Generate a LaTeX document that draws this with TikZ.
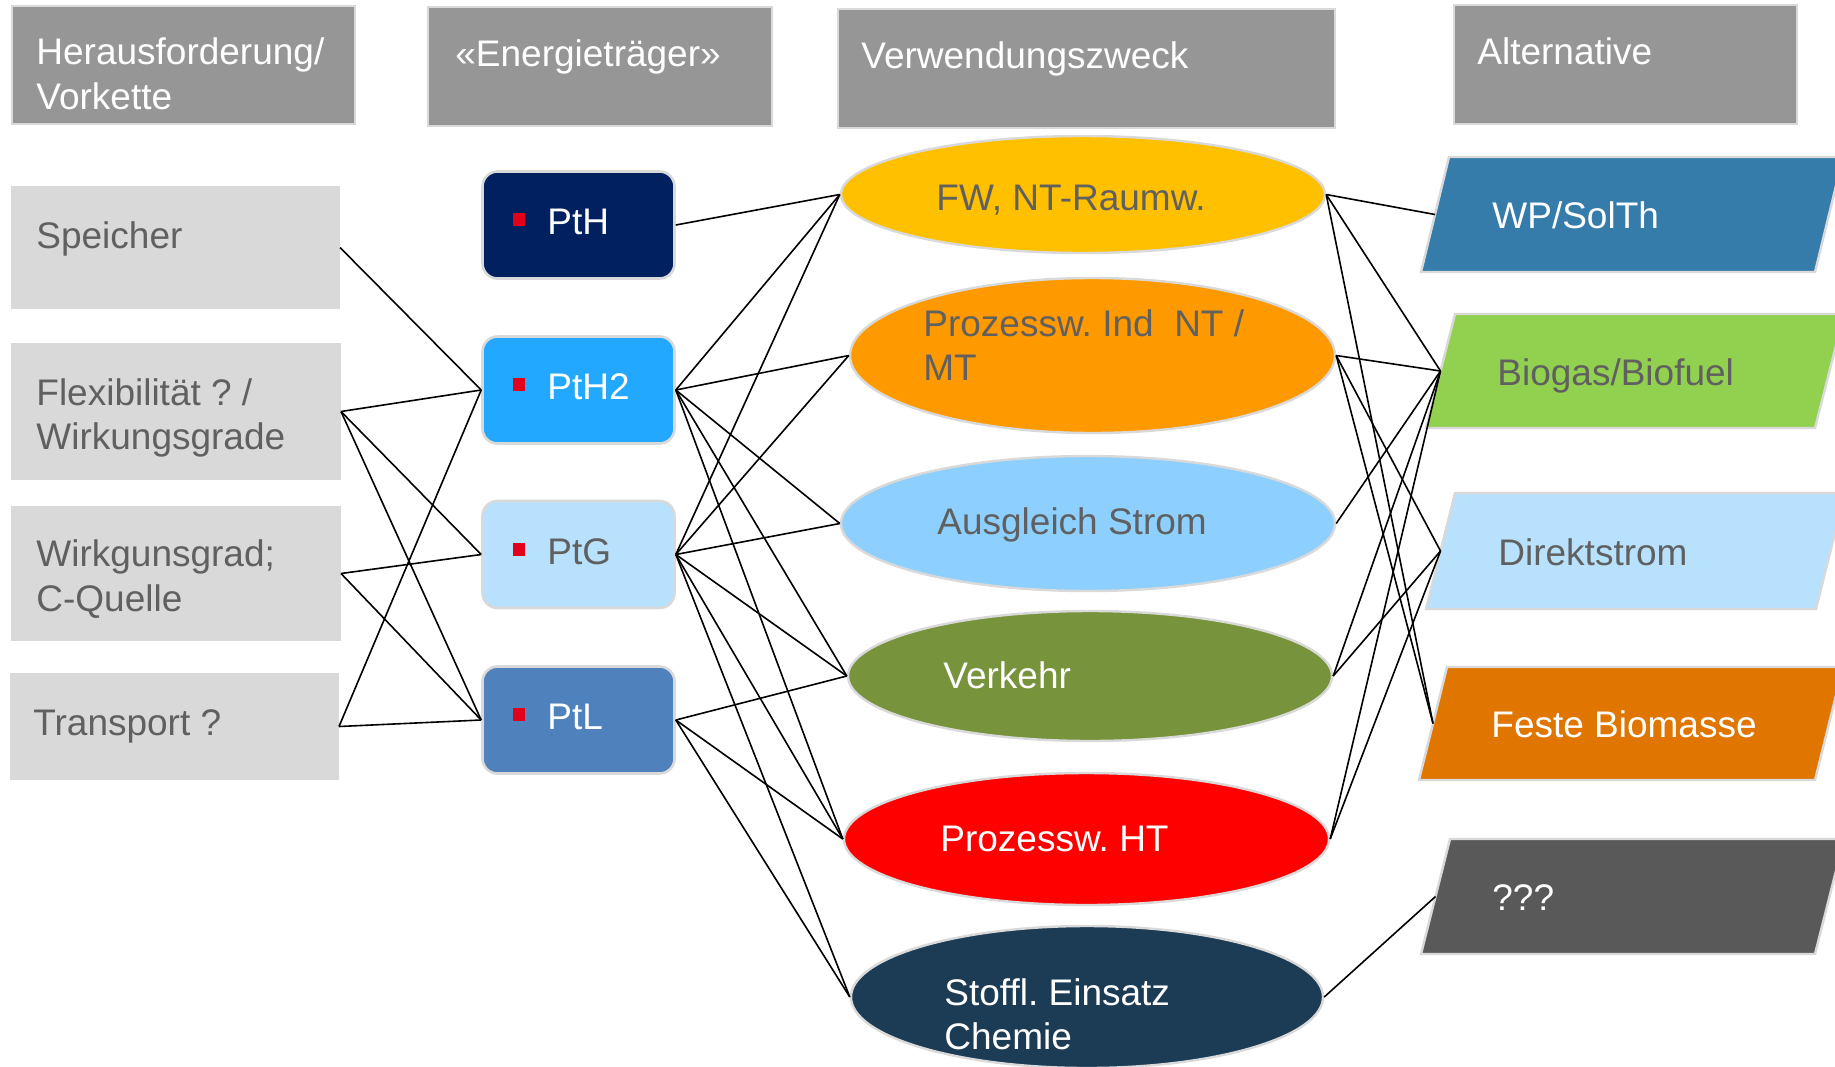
\documentclass[tikz,border=0pt]{standalone}
\usepackage{fontspec}
\setmainfont{Liberation Sans}
\usetikzlibrary{shapes.geometric}

\definecolor{hdr}{HTML}{969696}
\definecolor{lbox}{HTML}{D9D9D9}
\definecolor{edge}{HTML}{D9D9D9}
\definecolor{txtgray}{HTML}{606060}
\definecolor{cPtH}{HTML}{002060}
\definecolor{cPtHii}{HTML}{23A8FF}
\definecolor{cPtG}{HTML}{B7E1FD}
\definecolor{cPtL}{HTML}{4F81BD}
\definecolor{cFW}{HTML}{FFC000}
\definecolor{cPI}{HTML}{FF9900}
\definecolor{cAS}{HTML}{8DD0FF}
\definecolor{cV}{HTML}{77933C}
\definecolor{cHT}{HTML}{FF0000}
\definecolor{cSE}{HTML}{1C3B55}
\definecolor{cWP}{HTML}{357CAB}
\definecolor{cBio}{HTML}{92D050}
\definecolor{cDir}{HTML}{B7E1FD}
\definecolor{cFB}{HTML}{E07500}
\definecolor{cQ}{HTML}{595959}
\definecolor{bred}{HTML}{E3001B}

\newcommand{\ptbullet}{\raisebox{4pt}{\textcolor{bred}{\rule{6pt}{6.5pt}}}\hspace{11.25pt}}
\frenchspacing

\begin{document}
\begin{tikzpicture}[x=0.5pt,y=-0.5pt,
  font=\fontsize{18.5}{22.2}\selectfont,
  hbox/.style={draw=edge, line width=1.2pt, fill=hdr, inner sep=0pt},
  lbx/.style={draw=lbox, line width=1pt, fill=lbox, inner sep=0pt},
  ptbox/.style={draw=edge, line width=1.3pt, rounded corners=7.5pt, minimum width=96pt, minimum height=53.5pt, inner sep=0pt},
  ell/.style={ellipse, draw=edge, line width=1.2pt, inner sep=0pt},
  alt/.style={draw=edge, line width=1.2pt},
  lbl/.style={anchor=base west, inner sep=0pt, text=white},
  glbl/.style={lbl, text=txtgray},
  link/.style={draw=black, line width=0.8pt},
]
\useasboundingbox (0,0) rectangle (1835,1066);
\clip (0,0) rectangle (1835,1066);

% header boxes
\node[hbox, minimum width=171.5pt, minimum height=59pt]   (h1) at (183.5,65)   {};
\node[hbox, minimum width=172pt,   minimum height=59.5pt] (h2) at (600,66.5)   {};
\node[hbox, minimum width=248.5pt, minimum height=59.5pt] (h3) at (1086.5,68.5) {};
\node[hbox, minimum width=171.5pt, minimum height=59.5pt] (h4) at (1625.5,64.5) {};

% left boxes
\node[lbx, minimum width=163.5pt, minimum height=60.5pt] (sp) at (175.5,247.5) {};
\node[lbx, minimum width=164pt,   minimum height=67.5pt] (fl) at (176,411.5)   {};
\node[lbx, minimum width=164pt,   minimum height=66.5pt] (wi) at (176,573.5)   {};
\node[lbx, minimum width=163.5pt, minimum height=52.5pt] (tr) at (174.5,726.5) {};

% energy carrier boxes
\node[ptbox, fill=cPtH]   (pth)  at (578.5,225)   {};
\node[ptbox, fill=cPtHii] (pth2) at (578.5,390)   {};
\node[ptbox, fill=cPtG]   (ptg)  at (578.5,554.5) {};
\node[ptbox, fill=cPtL]   (ptl)  at (578.5,720)   {};

% purpose ellipses
\node[ell, fill=cFW, minimum width=242pt,   minimum height=58.5pt] (fw) at (1083,194.5) {};
\node[ell, fill=cPI, minimum width=242.5pt, minimum height=77.5pt] (pi) at (1092.5,355.5) {};
\node[ell, fill=cAS, minimum width=247pt,   minimum height=67.5pt] (as) at (1088,523.5) {};
\node[ell, fill=cV,  minimum width=242pt,   minimum height=65pt]   (ve) at (1090,676) {};
\node[ell, fill=cHT, minimum width=242.5pt, minimum height=66pt]   (ht) at (1086.5,839) {};
\node[ell, fill=cSE, minimum width=236pt,   minimum height=71pt]   (se) at (1087,997) {};

% alternatives (parallelograms)
\path[alt, fill=cWP]  (1421,272) -- (1815,272) -- (1843,157) -- (1449,157) -- cycle;
\path[alt, fill=cBio] (1426,428) -- (1815,428) -- (1844,314) -- (1455,314) -- cycle;
\path[alt, fill=cDir] (1426,609) -- (1816,609) -- (1845,493) -- (1455,493) -- cycle;
\path[alt, fill=cFB]  (1419,780) -- (1815,780) -- (1843,667) -- (1447,667) -- cycle;
\path[alt, fill=cQ]   (1421,954) -- (1815,954) -- (1844,839) -- (1450,839) -- cycle;
\coordinate (wpL)  at (1435,214.5);
\coordinate (bioL) at (1440.5,371);
\coordinate (dirL) at (1440.5,551);
\coordinate (fbL)  at (1433,723.5);
\coordinate (qL)   at (1435.5,896.5);

% connectors: left -> energy carriers
\draw[link] (sp.east) -- (pth2.west);
\draw[link] (fl.east) -- (pth2.west);
\draw[link] (fl.east) -- (ptg.west);
\draw[link] (fl.east) -- (ptl.west);
\draw[link] (wi.east) -- (ptg.west);
\draw[link] (wi.east) -- (ptl.west);
\draw[link] (tr.east) -- (pth2.west);
\draw[link] (tr.east) -- (ptl.west);

% energy carriers -> purposes
\draw[link] (pth.east) -- (fw.west);
\draw[link] (pth2.east) -- (fw.west);
\draw[link] (pth2.east) -- (pi.west);
\draw[link] (pth2.east) -- (as.west);
\draw[link] (pth2.east) -- (ve.west);
\draw[link] (pth2.east) -- (ht.west);
\draw[link] (ptg.east) -- (fw.west);
\draw[link] (ptg.east) -- (pi.west);
\draw[link] (ptg.east) -- (as.west);
\draw[link] (ptg.east) -- (ve.west);
\draw[link] (ptg.east) -- (ht.west);
\draw[link] (ptg.east) -- (se.west);
\draw[link] (ptl.east) -- (ve.west);
\draw[link] (ptl.east) -- (ht.west);
\draw[link] (ptl.east) -- (se.west);

% purposes -> alternatives
\draw[link] (fw.east) -- (wpL);
\draw[link] (fw.east) -- (bioL);
\draw[link] (fw.east) -- (fbL);
\draw[link] (pi.east) -- (bioL);
\draw[link] (pi.east) -- (dirL);
\draw[link] (pi.east) -- (fbL);
\draw[link] (as.east) -- (bioL);
\draw[link] (ve.east) -- (bioL);
\draw[link] (ve.east) -- (dirL);
\draw[link] (ht.east) -- (bioL);
\draw[link] (ht.east) -- (dirL);
\draw[link] (se.east) -- (qL);

% texts: headers
\node[lbl] (t1a) at (36,64.5) {Herausforderung/};
\node[lbl] (t1b) at (36,109) {Vorkette};
\node[lbl] (t2) at (455,66) {«Energieträger»};
\node[lbl] (t3) at (861,68) {Verwendungszweck};
\node[lbl] (t4) at (1477,64.5) {Alternative};

% texts: left boxes
\node[glbl] (tsp) at (36,248) {Speicher};
\node[glbl] (tfla) at (36,405) {Flexibilität ? /};
\node[glbl] (tflb) at (36,449.5) {Wirkungsgrade};
\node[glbl] (twia) at (36,566.5) {Wirkgunsgrad;};
\node[glbl] (twib) at (36,611) {C-Quelle};
\node[glbl] (ttr) at (33,735) {Transport ?};

% texts: energy carriers
\node[lbl] (tpth)  at (512.5,234) {\ptbullet PtH};
\node[lbl] (tpth2) at (512.5,399) {\ptbullet PtH2};
\node[glbl] (tptg) at (512.5,564) {\ptbullet PtG};
\node[lbl] (tptl)  at (512.5,729) {\ptbullet PtL};

% texts: purposes
\node[glbl] (tfw) at (936,210) {FW, NT-Raumw.};
\node[glbl] (tpia) at (923,336) {Prozessw. Ind\ \ NT /};
\node[glbl] (tpib) at (923,380.5) {MT};
\node[glbl] (tas) at (937,534) {Ausgleich Strom};
\node[lbl] (tve) at (943,688) {Verkehr};
\node[lbl] (tht) at (940,851) {Prozessw. HT};
\node[lbl] (tsea) at (944,1005) {Stoffl. Einsatz};
\node[lbl] (tseb) at (944,1049.5) {Chemie};

% texts: alternatives
\node[lbl] (twp) at (1492,228.5) {WP/SolTh};
\node[glbl] (tbio) at (1497,385.5) {Biogas/Biofuel};
\node[glbl] (tdir) at (1498,565.5) {Direktstrom};
\node[lbl] (tfb) at (1491,737.5) {Feste Biomasse};
\node[lbl] (tq) at (1492,910) {???};
\end{tikzpicture}
\end{document}
